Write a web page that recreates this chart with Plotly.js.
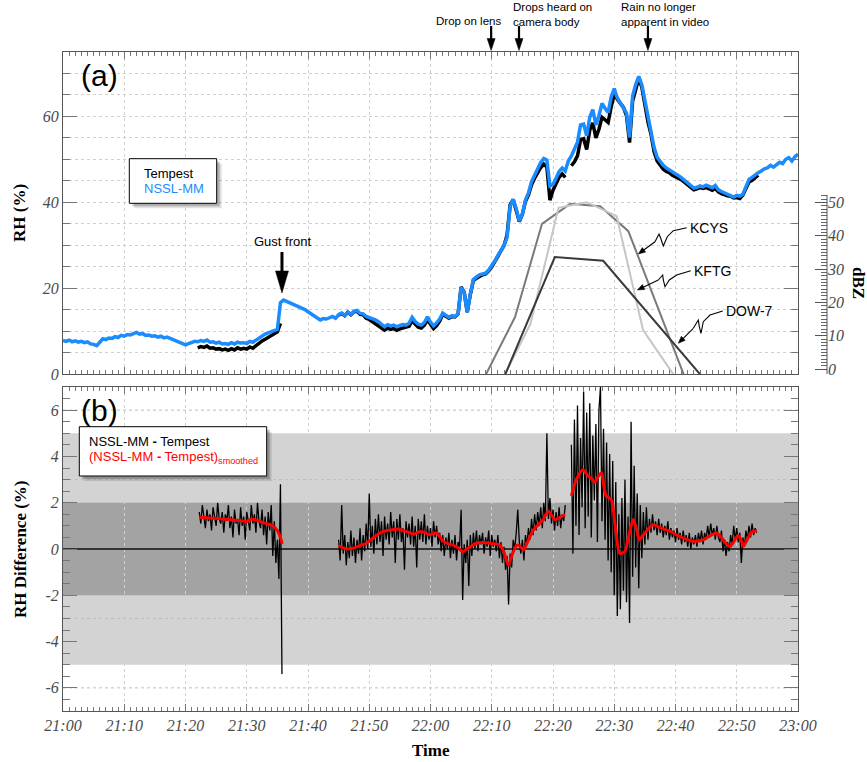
<!DOCTYPE html>
<html><head><meta charset="utf-8">
<script src="https://cdn.plot.ly/plotly-3.0.1.min.js"></script>
<style>html,body{margin:0;padding:0;background:#fff;}#chart{width:867px;height:762px;}</style>
</head><body><div id="chart"></div>
<script>
// ---------------- DATA ----------------
// time axis: minutes after 21:00
const timeTickVals = [0,10,20,30,40,50,60,70,80,90,100,110,120];
const timeTickText = ['21:00','21:10','21:20','21:30','21:40','21:50','22:00','22:10','22:20','22:30','22:40','22:50','23:00'];
const diffTickVals = [-6,-4,-2,0,2,4,6];
const diffTickText = ['-6','-4','-2','0','2','4','6'];
const rhTickVals = [0,20,40,60];
const dbzTickVals = [0,10,20,30,40,50];

// NSSL-MM RH (%), sampled every 0.5 min from 21:00
const RH_STEP = 0.5;
const rhNssl = [
7.8,7.6,7.9,7.5,7.7,7.4,7.6,7.3,7.5,7.0,6.9,6.6,7.4,8.2,8.0,8.4,8.3,8.7,8.5,9.0,
8.8,9.2,9.1,9.5,9.7,9.3,9.4,9.0,9.1,8.8,8.9,8.6,8.8,8.4,8.6,8.3,8.0,7.6,7.3,7.0,
6.8,7.1,7.3,7.6,7.5,7.8,7.6,7.9,7.4,7.5,7.2,7.4,7.0,7.1,6.9,7.3,7.0,7.4,7.2,7.3,
7.1,7.6,7.4,7.9,8.3,8.9,9.3,9.6,9.8,10.1,10.4,16.6,17.2,16.9,16.6,16.2,15.9,15.6,15.4,15.0,
14.5,14.0,13.4,12.9,12.6,12.9,12.8,13.1,13.4,13.0,13.8,14.2,13.6,14.4,13.9,14.6,14.8,14.1,14.0,13.4,
13.2,12.9,12.6,12.2,11.6,11.0,11.5,11.2,11.4,11.0,11.3,11.5,11.4,11.8,13.2,12.2,11.6,11.4,12.0,13.3,
12.1,11.2,11.9,12.8,14.2,13.6,13.2,13.6,13.4,14.0,20.2,19.0,14.4,18.6,22.0,22.6,23.1,23.3,23.5,24.2,
25.2,26.3,27.6,28.9,29.9,31.8,39.0,40.7,38.5,35.6,37.2,40.5,42.2,44.8,46.4,48.0,49.3,50.2,49.8,43.8,
44.2,45.6,47.2,48.0,47.3,49.6,50.8,52.4,54.0,58.0,58.2,55.5,59.8,61.6,58.0,60.2,63.0,61.9,60.9,64.5,
66.5,64.3,63.0,62.0,60.8,55.1,64.8,67.4,69.3,67.4,63.5,59.6,56.8,52.8,50.5,49.5,48.6,48.0,47.6,47.0,
46.6,46.2,45.7,45.1,44.4,43.8,43.3,43.5,43.8,43.6,44.0,43.7,43.4,43.9,42.9,42.5,42.2,41.8,41.5,41.2,
41.6,41.4,41.9,43.5,45.3,45.8,46.4,46.9,47.3,47.8,48.0,48.6,48.2,48.8,49.3,49.0,50.0,50.4,49.6,50.6,
51.2];

// Tempest RH (%), 0.5 min samples, three record segments
const tempestStarts = [22, 45, 83];
const tempestSeg1 = [6.1,6.4,6.2,6.5,6.0,6.1,5.8,5.9,5.6,5.8,5.5,5.9,5.6,6.1,5.8,6.0,5.8,6.3,6.0,6.6,7.0,7.7,8.1,8.5,8.8,9.2,9.8,11.8];
const tempestSeg2 = [
13.7,14.1,13.6,14.4,13.8,14.5,14.6,13.9,13.8,13.0,
12.7,12.2,11.8,11.4,10.8,10.2,10.7,10.4,10.6,10.2,
10.5,10.7,10.7,11.1,12.4,11.5,10.9,10.7,11.4,12.6,
11.5,10.6,11.3,12.3,13.9,13.4,13.0,13.4,13.3,14.0,
20.3,19.1,14.4,18.5,21.8,22.3,22.8,23.1,23.3,24.0,
25.0,26.1,27.4,28.7,29.9,32.4,39.4,40.6,38.3,35.5,
37.2,40.2,41.7,44.1,45.6,47.0,48.1,48.9,48.2,40.5,
42.8,44.3,45.8,46.6,45.8];
const tempestSeg3 = [
48.5,49.4,50.8,54.6,54.8,52.3,56.8,58.5,55.0,57.0,
59.8,59.3,58.6,62.2,65.2,64.0,63.2,62.1,60.2,53.9,
63.6,66.6,68.9,66.8,62.7,58.7,55.8,51.8,49.6,48.6,
47.7,47.2,46.9,46.3,46.0,45.6,45.2,44.6,44.0,43.4,
42.9,43.1,43.4,43.2,43.4,43.1,42.8,43.2,42.4,42.0,
41.7,41.5,41.4,41.0,41.1,40.9,41.7,43.0,44.7,45.1,
45.7,46.3];

// NSSL-MM - Tempest (%), 0.25 min samples
const DIFF_STEP = 0.25;
const diffStarts = [22.25, 45, 83];
const diffSeg1 = [
1.6,1.1,1.9,1.3,0.9,1.7,1.2,1.5,0.8,1.8,
1.4,1.0,2.0,1.3,1.1,1.6,0.7,1.5,1.2,1.9,
0.9,1.4,0.5,1.7,1.1,1.3,0.6,1.8,1.0,1.4,
0.4,1.6,1.2,0.8,1.9,1.1,1.5,0.7,2.0,1.2,
0.9,1.7,0.6,1.4,0.2,1.6,0.8,1.9,-0.3,1.2,
-0.6,0.4,-1.3,2.8,-5.4];
const diffSeg2 = [
0.4,-0.5,1.9,-0.2,0.6,-0.7,0.3,-0.4,0.8,-0.3,0.5,-0.6,0.4,-0.2,0.9,-0.5,0.6,-0.1,1.1,0.0,
2.4,0.1,1.0,-0.2,1.3,0.2,1.5,0.3,1.2,-0.3,1.4,0.4,1.1,0.2,1.6,0.5,1.2,-0.6,1.3,0.4,
1.5,0.3,0.9,-0.9,1.2,0.5,1.1,0.2,1.4,0.1,1.0,-0.8,1.3,0.4,1.2,0.3,1.5,0.2,1.0,0.4,
0.9,0.1,1.2,0.5,1.0,0.2,0.7,-0.1,0.6,-0.3,0.5,0.0,0.7,-0.4,0.4,-0.2,0.6,-0.5,0.3,0.1,
1.7,-2.2,0.2,-0.6,0.4,-1.6,0.6,-0.3,0.7,0.0,0.8,-0.1,0.6,0.2,0.7,-0.2,0.5,0.1,0.8,-0.3,
0.6,0.1,0.4,-0.1,0.6,-0.4,0.3,-0.6,0.1,-0.9,-0.3,-2.4,-0.2,-0.8,0.4,0.0,0.7,1.7,0.3,-0.2,
0.4,-0.5,0.6,0.2,0.9,0.4,1.3,0.6,1.5,0.8,1.6,1.0,1.8,0.9,2.0,1.2,5.0,1.3,2.2,1.1,
1.7,0.8,1.6,1.0,1.8,0.9,1.5,1.2,1.9];
const diffSeg3 = [
4.5,-0.2,5.6,1.0,6.2,0.6,4.8,1.8,6.8,0.9,5.9,1.4,6.3,0.5,4.9,2.1,5.4,0.3,6.0,7.0,
1.2,5.2,0.4,4.6,-0.5,4.1,-1.0,3.8,-2.0,2.9,-2.9,1.5,-2.6,2.2,-1.8,3.0,-2.3,1.4,-3.2,5.5,
-1.2,3.6,-0.8,2.4,-1.7,1.9,-0.4,1.6,0.2,1.8,0.4,1.3,0.7,1.5,0.8,1.2,0.6,1.3,0.7,1.1,
0.5,1.0,0.6,1.2,0.4,0.9,0.5,0.8,0.3,0.9,0.4,0.7,0.2,0.8,0.3,0.6,0.1,0.7,0.0,0.5,
0.2,0.6,0.1,0.7,0.3,0.8,0.2,0.7,0.4,1.0,0.5,1.1,0.6,0.9,0.4,1.0,0.5,0.3,0.8,-0.1,
0.4,-0.3,0.3,-0.1,0.6,0.2,1.0,0.4,0.9,0.3,0.7,-0.6,0.5,0.1,0.8,0.4,1.0,0.5,1.1,0.6,
0.9,0.7];

// smoothed difference
const smoothT1 = [22.25,23,24,25,26,27,28,29,30,30.8,31.5,32.5,33.5,34.3,35,35.5,35.8];
const smoothV1 = [1.35,1.37,1.33,1.32,1.30,1.28,1.24,1.22,1.19,1.30,1.25,1.15,1.08,0.98,0.80,0.50,0.22];
const smoothT2 = [45,45.7,46.5,47.5,48.5,49.5,50.5,51.5,52.3,53.5,54.5,55.5,56.5,57.2,58.3,59.2,59.9,61.0,62.1,63.0,63.7,64.5,65.3,66.1,67.5,68.5,69.5,70.5,71.3,72.0,72.7,73.4,74.1,74.7,75.2,76.0,76.8,77.6,78.4,79.2,79.8,80.3,81.0,82.0];
const smoothV2 = [0.15,0.05,0.0,0.05,0.15,0.25,0.45,0.65,0.76,0.82,0.86,0.80,0.72,0.64,0.76,0.70,0.62,0.69,0.32,0.22,0.17,0.05,-0.12,0.03,0.25,0.28,0.26,0.22,0.17,-0.15,-0.70,-0.20,0.17,0.10,-0.04,0.40,0.83,1.05,1.27,1.63,1.45,1.27,1.35,1.48];
const smoothT3 = [83.0,83.8,84.9,85.7,86.3,86.8,87.3,87.9,88.3,88.7,89.5,90.2,90.9,91.7,92.4,93.1,93.6,94.1,94.7,95.2,96.3,97.3,98.4,99.3,100.1,101.0,102.0,102.9,103.7,104.5,105.5,106.7,107.5,108.2,108.9,109.6,110.2,110.7,111.1,111.8,112.4,113.3];
const smoothV3 = [2.30,3.00,3.42,3.16,3.05,2.87,3.10,3.30,2.70,2.28,2.14,0.90,-0.19,-0.12,0.60,1.27,0.90,0.39,0.60,0.76,1.05,0.95,0.83,0.75,0.62,0.50,0.40,0.32,0.35,0.39,0.55,0.69,0.50,0.25,0.10,0.35,0.58,0.40,0.13,0.45,0.73,0.80];

// radar reflectivity (dBZ) over the site
const kcysT = [69.0,73.8,78.2,82.8,87.7,92.3,96.9,101.5];
const kcysZ = [-1.8,15.6,43.6,49.6,48.9,41.4,19.5,-2.4];
const kftgT = [71.7,76.3,80.9,85.5,90.4,94.7,99.8];
const kftgZ = [-3.3,13.5,48.4,50.1,45.9,11.7,-2.0];
const dow7T = [72.0,80.3,88.2,104.2];
const dow7Z = [-2.5,33.6,32.5,-2.0];

// event markers (minutes after 21:00)
const gustFrontT = 35.75;
const dropLensT = 69.9;
const dropsBodyT = 74.45;
const rainEndT = 95.5;

// ---------------- BUILD ----------------
function buildSegments(starts, segs, step) {
  const x = [], y = [];
  segs.forEach((s, k) => {
    if (k > 0) { x.push(null); y.push(null); }
    s.forEach((v, i) => { x.push(starts[k] + i * step); y.push(v); });
  });
  return {x, y};
}
function joinSegments(ts, vs) {
  const x = [], y = [];
  ts.forEach((t, k) => {
    if (k > 0) { x.push(null); y.push(null); }
    t.forEach((v, i) => { x.push(v); y.push(vs[k][i]); });
  });
  return {x, y};
}
const nsslT = rhNssl.map((_, i) => i * RH_STEP);
const tempest = buildSegments(tempestStarts, [tempestSeg1, tempestSeg2, tempestSeg3], RH_STEP);
const diff = buildSegments(diffStarts, [diffSeg1, diffSeg2, diffSeg3], DIFF_STEP);
const smooth = joinSegments([smoothT1, smoothT2, smoothT3], [smoothV1, smoothV2, smoothV3]);

const BLUE = '#1a8cff';
const traces = [
  {x: tempest.x, y: tempest.y, xaxis: 'x', yaxis: 'y', mode: 'lines', line: {color: '#000', width: 3.5}},
  {x: nsslT, y: rhNssl, xaxis: 'x', yaxis: 'y', mode: 'lines', line: {color: BLUE, width: 3.5}},
  {x: kcysT, y: kcysZ, xaxis: 'x', yaxis: 'y3', mode: 'lines', line: {color: '#7a7a7a', width: 2}},
  {x: kftgT, y: kftgZ, xaxis: 'x', yaxis: 'y3', mode: 'lines', line: {color: '#c6c6c6', width: 2}},
  {x: dow7T, y: dow7Z, xaxis: 'x', yaxis: 'y3', mode: 'lines', line: {color: '#3a3a3a', width: 2}},
  {x: diff.x, y: diff.y, xaxis: 'x2', yaxis: 'y2', mode: 'lines', line: {color: '#000', width: 1.3}},
  {x: smooth.x, y: smooth.y, xaxis: 'x2', yaxis: 'y2', mode: 'lines', line: {color: '#ff0000', width: 3, shape: 'spline', smoothing: 0.7}}
];

// geometry helpers (pixel -> paper) for decorations
const FW = 867, FH = 762, ML = 63, MR = 40, MT = 52, MB = 51;
const PW = FW - ML - MR, PH = FH - MT - MB;
const px = v => (v - ML) / PW;
const py = v => (FH - MB - v) / PH;
const X_RANGE = [0, 120];
const X_DOMAIN = [0, px(798)];
// time value -> pixel column, following the x axis range/domain
const tPix = t => ML + PW * (X_DOMAIN[0] + (t - X_RANGE[0]) / (X_RANGE[1] - X_RANGE[0]) * (X_DOMAIN[1] - X_DOMAIN[0]));

const tickFont = {family: 'Liberation Serif', size: 16, style: 'italic', color: '#4a4a4a'};
const GRID = '#d0d0d0';
const frame = {showline: true, linecolor: '#555', linewidth: 1, mirror: 'ticks', ticks: 'inside', tickcolor: '#777', tickwidth: 1, zeroline: false};

const xCommon = Object.assign({}, frame, {
  domain: X_DOMAIN, range: X_RANGE, tickmode: 'array', tickvals: timeTickVals, ticktext: timeTickText,
  ticklen: 7, showgrid: true, gridcolor: GRID, griddash: 'dot', gridwidth: 1, tickfont: tickFont,
  minor: {tickmode: 'linear', tick0: 0, dtick: 1, ticks: 'inside', ticklen: 4, tickcolor: '#777', showgrid: false}
});

const minorDbz = [];
for (let v = 1; v <= 52; v++) if (v % 10 !== 0) minorDbz.push(v);

const gridLevels = [-6, -3, 3, 6];

const shapes = [
  {type: 'rect', xref: 'x2', yref: 'y2', x0: 0, x1: 120, y0: -5, y1: 5, fillcolor: '#d3d3d3', line: {width: 0}, layer: 'below'},
  {type: 'rect', xref: 'x2', yref: 'y2', x0: 0, x1: 120, y0: -2, y1: 2, fillcolor: '#a3a3a3', line: {width: 0}, layer: 'below'}
];
gridLevels.forEach(g => shapes.push({type: 'line', xref: 'x2', yref: 'y2', x0: 0, x1: 120, y0: g, y1: g,
  line: {color: '#bdbdbd', width: 1, dash: 'dot'}, layer: 'below'}));
shapes.push({type: 'line', xref: 'paper', yref: 'y3', x0: 1, x1: 1, y0: -1.5, y1: 52.3, line: {color: '#555', width: 1}});

function boxWithShadow(x0, y0, x1, y1) {
  shapes.push({type: 'rect', xref: 'paper', yref: 'paper', x0: px(x0 + 5), x1: px(x1 + 5), y0: py(y1 + 5), y1: py(y0 + 5), fillcolor: 'rgba(0,0,0,0.12)', line: {width: 0}});
  shapes.push({type: 'rect', xref: 'paper', yref: 'paper', x0: px(x0 + 3), x1: px(x1 + 3), y0: py(y1 + 3), y1: py(y0 + 3), fillcolor: 'rgba(0,0,0,0.22)', line: {width: 0}});
  shapes.push({type: 'rect', xref: 'paper', yref: 'paper', x0: px(x0), x1: px(x1), y0: py(y1), y1: py(y0), fillcolor: '#fff', line: {color: '#000', width: 1}});
}
boxWithShadow(129.3, 158.7, 216.7, 203.3);
boxWithShadow(79.3, 426.7, 266.7, 476);

function pathOf(pts, close) {
  return pts.map((p, i) => (i ? 'L' : 'M') + px(p[0]).toFixed(5) + ',' + py(p[1]).toFixed(5)).join(' ') + (close ? ' Z' : '');
}
function squiggle(pts) {
  shapes.push({type: 'path', xref: 'paper', yref: 'paper', path: pathOf(pts, false), line: {color: '#000', width: 1.1}});
}
// arrow from tail (x0,y0) to head (x1,y1), in pixels
function arrow(x0, y0, x1, y1, headLen, headHalf, lw) {
  const dx = x1 - x0, dy = y1 - y0, L = Math.hypot(dx, dy), ux = dx / L, uy = dy / L;
  const bx = x1 - ux * headLen, by = y1 - uy * headLen, nx = -uy, ny = ux;
  shapes.push({type: 'path', xref: 'paper', yref: 'paper', path: pathOf([[x0, y0], [bx + ux, by + uy]], false), line: {color: '#000', width: lw}});
  shapes.push({type: 'path', xref: 'paper', yref: 'paper', path: pathOf([[x1, y1], [bx + nx * headHalf, by + ny * headHalf], [bx - nx * headHalf, by - ny * headHalf]], true),
    fillcolor: '#000', line: {color: '#000', width: 0.5}});
}
squiggle([[686.7,227.7],[673.3,230.7],[667.3,236.7],[663.3,246],[660.7,238.3],[659,234],[655,241.7]]);
squiggle([[690.7,270.7],[676.7,275],[669.3,280],[665,286.7],[663.3,280],[662.7,275],[658.3,280]]);
squiggle([[722.7,311],[710,315],[703.3,321.7],[701,333.3],[699.3,326.7],[698.3,320],[693.3,328.3]]);
arrow(655, 241.7, 638.3, 254, 7, 2.8, 1.1);
arrow(658.3, 280, 637.3, 290, 7, 2.8, 1.1);
arrow(693.3, 328.3, 678.3, 343.3, 7, 2.8, 1.1);
[dropLensT, dropsBodyT, rainEndT].forEach(t => arrow(tPix(t), 26, tPix(t), 50.5, 12, 4, 2.2));
arrow(tPix(gustFrontT), 252, tPix(gustFrontT), 293, 22, 6.5, 3);

const sans = 'Liberation Sans';
const ann = [];
function txt(text, x, y, opts) {
  ann.push(Object.assign({text: text, xref: 'paper', yref: 'paper', x: px(x), y: py(y), showarrow: false,
    xanchor: 'center', yanchor: 'middle', font: {family: sans, size: 13, color: '#000'}}, opts || {}));
}
txt('(a)', 99, 76, {font: {family: sans, size: 30, color: '#000'}});
txt('(b)', 99, 410, {font: {family: sans, size: 30, color: '#000'}});
txt('Drop on lens', 468, 21, {font: {family: sans, size: 11.5, color: '#000'}});
txt('Drops heard on<br>camera body', 511, 14.5, {xanchor: 'left', align: 'left', font: {family: sans, size: 11.5, color: '#000'}});
txt('Rain no longer<br>apparent in video', 619, 14.5, {xanchor: 'left', align: 'left', font: {family: sans, size: 11.5, color: '#000'}});
txt('Gust front', 282, 241);
txt('Tempest', 142, 173.7, {xanchor: 'left'});
txt('NSSL-MM', 142, 188.7, {xanchor: 'left', font: {family: sans, size: 13, color: BLUE}});
txt('NSSL-MM <b>-</b> Tempest', 87, 441.7, {xanchor: 'left'});
txt('(NSSL-MM <b>-</b> Tempest)<sub>smoothed</sub>', 87, 457.5, {xanchor: 'left', font: {family: sans, size: 13, color: '#ff0000'}});
txt('KCYS', 688, 227.7, {xanchor: 'left', font: {family: sans, size: 14, color: '#000'}});
txt('KFTG', 691.5, 270.7, {xanchor: 'left', font: {family: sans, size: 14, color: '#000'}});
txt('DOW-7', 724, 311, {xanchor: 'left', font: {family: sans, size: 14, color: '#000'}});
// axis titles
const titleFont = {family: 'Liberation Serif', size: 17, weight: 'bold', color: '#000'};
txt('RH (%)', 20, 213, {textangle: -90, font: titleFont});
txt('RH Difference (%)', 20, 549, {textangle: -90, font: titleFont});
txt('Time', 430.5, 750, {font: titleFont});
txt('dBZ', 859, 283, {textangle: 90, font: titleFont});

const layout = {
  width: FW, height: FH,
  margin: {l: ML, r: MR, t: MT, b: MB, pad: 0},
  paper_bgcolor: '#fff', plot_bgcolor: 'rgba(0,0,0,0)',
  showlegend: false, hovermode: false,
  xaxis: Object.assign({}, xCommon, {anchor: 'y', showticklabels: false}),
  xaxis2: Object.assign({}, xCommon, {anchor: 'y2', showticklabels: true}),
  yaxis: Object.assign({}, frame, {
    domain: [py(374), 1], anchor: 'x', range: [0, 75], tickmode: 'array', tickvals: rhTickVals,
    ticklen: 14, showgrid: true, gridcolor: GRID, griddash: 'dot', tickfont: tickFont,
    minor: {tickmode: 'linear', tick0: 0, dtick: 5, ticks: 'inside', ticklen: 7, tickcolor: '#777', showgrid: true, gridcolor: GRID, griddash: 'dot'}
  }),
  yaxis2: Object.assign({}, frame, {
    domain: [0, py(387)], anchor: 'x2', range: [-7, 7], tickmode: 'array', tickvals: diffTickVals, ticktext: diffTickText,
    ticklen: 14, showgrid: false, tickfont: tickFont, zeroline: true, zerolinecolor: '#333', zerolinewidth: 1.5,
    minor: {tickmode: 'linear', tick0: 0, dtick: 0.5, ticks: 'inside', ticklen: 7, tickcolor: '#777', showgrid: false}
  }),
  yaxis3: {
    overlaying: 'y', anchor: 'free', position: 1, side: 'right', range: [-1.5, 95.2],
    tickmode: 'array', tickvals: dbzTickVals, ticks: 'inside', ticklen: 12, tickcolor: '#555', tickwidth: 1,
    showline: false, showgrid: false, zeroline: false, tickfont: tickFont,
    minor: {tickmode: 'array', tickvals: minorDbz, ticks: 'inside', ticklen: 6, tickcolor: '#666', showgrid: false}
  },
  shapes: shapes,
  annotations: ann
};

Plotly.newPlot('chart', traces, layout, {displayModeBar: false, staticPlot: true});
</script>
</body></html>
